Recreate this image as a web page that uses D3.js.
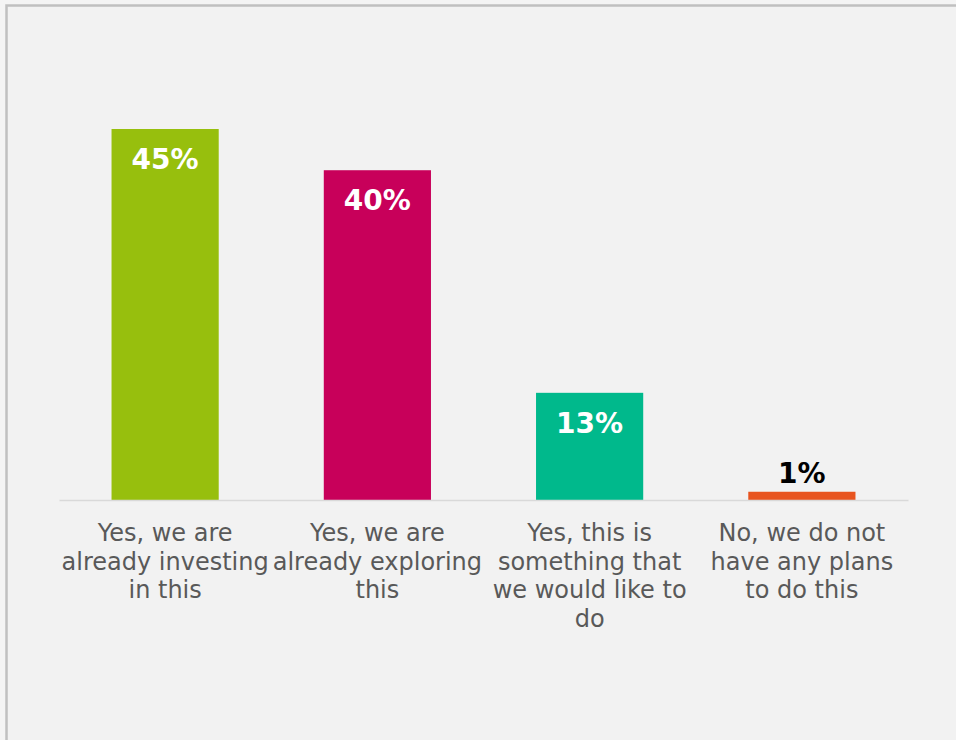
<!DOCTYPE html>
<html>
<head>
<meta charset="utf-8">
<script src="https://cdn.jsdelivr.net/npm/d3@7"></script>
<style>
html, body { margin: 0; padding: 0; background: #f4f4f4; }
svg { display: block; }
.axis path { stroke: #d9d9d9; stroke-width: 1.5; }
.axis text { font-family: "DejaVu Sans", Verdana, sans-serif; font-size: 24px; fill: #595959; }
.val { font-family: "DejaVu Sans", Verdana, sans-serif; font-size: 28px; font-weight: bold; }
</style>
</head>
<body>
<svg id="chart" width="956" height="740"></svg>
<script>
// category labels, already broken into lines like the original
var categories = [
  ["Yes, we are", "already investing", "in this"],
  ["Yes, we are", "already exploring", "this"],
  ["Yes, this is", "something that", "we would like to", "do"],
  ["No, we do not", "have any plans", "to do this"]
];
var values = [45, 40, 13, 1];
var colors = ["#97bf0d", "#c8005a", "#00b98c", "#e8541f"];

var svg = d3.select("#chart"),
margin = {top: 129, right: 48, bottom: 240, left: 59},
width = +svg.attr("width") - margin.left - margin.right,
height = +svg.attr("height") - margin.top - margin.bottom;

// chart area background + frame (right / bottom edges fall outside the picture)
svg.append("rect")
   .attr("x", 6.5).attr("y", 5.5)
   .attr("width", 1200).attr("height", 1200)
   .attr("fill", "#f2f2f2")
   .attr("stroke", "#c0c0c0")
   .attr("stroke-width", 2.5);

var g = svg.append("g").attr("transform", "translate(" + margin.left + "," + margin.top + ")");

var keys = categories.map(function(d, i) { return i; });

var x = d3.scaleBand()
          .domain(keys)
          .range([0, width])
          .paddingInner(0.495)
          .paddingOuter(0.2475);

var y = d3.scaleLinear()
          .domain([0, 45])
          .range([height, 0]);

g.selectAll(".bar")
  .data(values)
  .enter().append("rect")
    .attr("class", "bar")
    .attr("x", function(d, i) { return x(i); })
    .attr("y", function(d) { return y(d); })
    .attr("width", x.bandwidth())
    .attr("height", function(d) { return height - y(d); })
    .attr("fill", function(d, i) { return colors[i]; });

var xAxis = g.append("g")
     .attr("class", "axis axis--x")
     .attr("transform", "translate(0," + height + ")")
     .call(d3.axisBottom(x).tickSize(0).tickSizeOuter(0).tickFormat(""));

xAxis.selectAll(".tick text").remove();
xAxis.selectAll(".tick").append("text")
     .attr("text-anchor", "middle")
     .attr("y", 41)
     .each(function(i) {
        var t = d3.select(this);
        categories[i].forEach(function(line, k) {
          t.append("tspan")
           .attr("x", 0)
           .attr("y", 41 + k * 28.7)
           .text(line);
        });
     });

// value labels: inside the bar when it is tall enough, above otherwise
g.selectAll(".val")
  .data(values)
  .enter().append("text")
    .attr("class", "val")
    .attr("text-anchor", "middle")
    .attr("x", function(d, i) { return x(i) + x.bandwidth() / 2; })
    .attr("y", function(d) { return (height - y(d)) > 50 ? y(d) + 40 : y(d) - 9; })
    .attr("fill", function(d) { return (height - y(d)) > 50 ? "#ffffff" : "#000000"; })
    .text(function(d) { return d + "%"; });
</script>
</body>
</html>
